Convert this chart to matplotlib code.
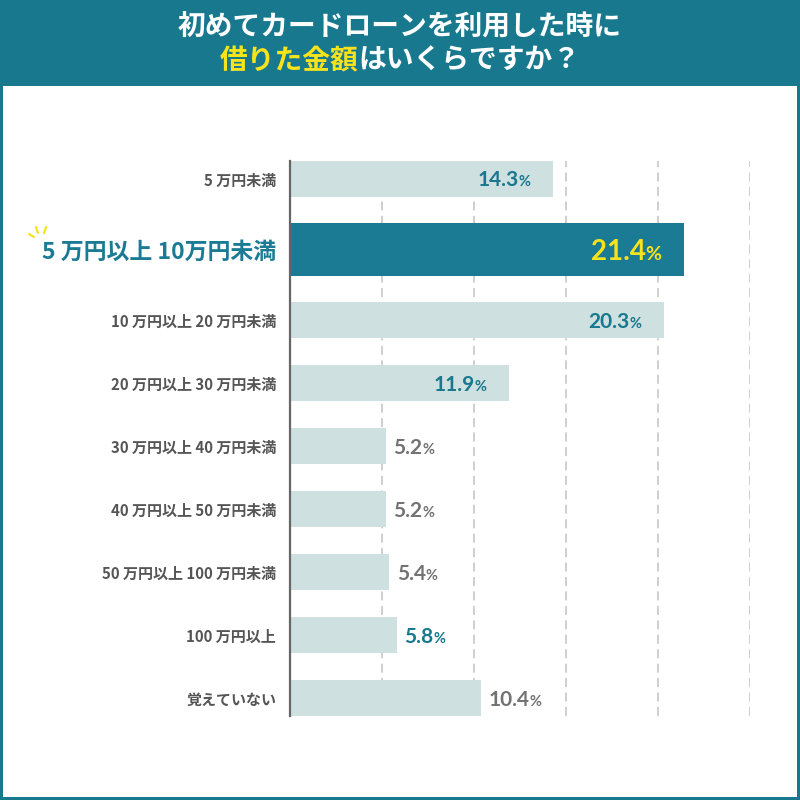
import matplotlib
matplotlib.use("Agg")
import matplotlib.pyplot as plt
import matplotlib.transforms as mtransforms
from matplotlib.patches import Rectangle
from matplotlib.lines import Line2D
import numpy as np

plt.rcParams["font.family"] = ["Noto Sans CJK JP", "DejaVu Sans"]

# data
categories = [
    "5 万円未満",
    "5 万円以上 10万円未満",
    "10 万円以上 20 万円未満",
    "20 万円以上 30 万円未満",
    "30 万円以上 40 万円未満",
    "40 万円以上 50 万円未満",
    "50 万円以上 100 万円未満",
    "100 万円以上",
    "覚えていない",
]
values = [14.3, 21.4, 20.3, 11.9, 5.2, 5.2, 5.4, 5.8, 10.4]
emphasis = [1, 2, 1, 1, 0, 0, 0, 1, 0]  # 2 = highlighted, 1 = teal label, 0 = gray
highlight = 1
title_line1 = "初めてカードローンを利用した時に"
title_line2a = "借りた金額"
title_line2b = "はいくらですか？"

# colours
TEAL = "#17788e"
BAR_HI = "#1b7b94"
BAR = "#cfe0e0"
YELLOW = "#f7e31c"
GRAY_TXT = "#737373"
LABEL_TXT = "#555555"
NUM_FONT = ["Lato", "Noto Sans CJK JP"]

W = H = 800
fig = plt.figure(figsize=(8, 8), dpi=100)
fig.patch.set_facecolor("white")

# header band and frame
head = 86
fig.patches.append(Rectangle((0, 1 - head / H), 1, head / H, transform=fig.transFigure,
                             facecolor=TEAL, edgecolor="none", zorder=0))
for (x0, y0, w, h) in [(0, 0, 3, H), (W - 3, 0, 3, H), (0, H - 3, W, 3)]:
    fig.patches.append(Rectangle((x0 / W, 1 - (y0 + h) / H), w / W, h / H,
                                 transform=fig.transFigure, facecolor=TEAL,
                                 edgecolor="none", zorder=0))

fig.text(0.5, 1 - 28 / H, title_line1, ha="center", va="center", color="white",
         fontsize=20, fontweight="bold")
t_a = fig.text(0, 1 - 61 / H, title_line2a, ha="left", va="center", color=YELLOW,
               fontsize=20, fontweight="bold")
t_b = fig.text(0, 1 - 61 / H, title_line2b, ha="left", va="center", color="white",
               fontsize=20, fontweight="bold")
renderer = fig.canvas.get_renderer()
wa = t_a.get_window_extent(renderer).width
wb = t_b.get_window_extent(renderer).width
x_start = (W - (wa + wb)) / 2
t_a.set_x(x_start / W)
t_b.set_x((x_start + wa) / W)

# chart
ax = fig.add_axes([290 / W, 1 - 716 / H, 460 / W, 555 / H])
n = len(values)
idx = np.arange(n, dtype=float)
gap = 0.12
pos = idx + gap * (idx >= highlight) + gap * (idx > highlight)
heights = [0.84 if e == 2 else 0.57 for e in emphasis]
colors = [BAR_HI if e == 2 else BAR for e in emphasis]

ax.barh(pos, values, height=heights, color=colors, zorder=2)
ax.set_xlim(0, 25)
ax.set_ylim(pos[-1] + 0.285, -0.285)

ax.set_xticks([5, 10, 15, 20, 25])
ax.set_xticklabels([])
ax.tick_params(axis="x", length=0)
ax.grid(axis="x", color="#cccccc", linewidth=1.3, linestyle=(0, (5, 3)), zorder=0)
ax.set_axisbelow(True)
for s in ["top", "right", "bottom"]:
    ax.spines[s].set_visible(False)
ax.spines["left"].set_color("#666666")
ax.spines["left"].set_linewidth(1.6)
ax.spines["left"].set_zorder(3)

ax.set_yticks(pos)
ax.set_yticklabels(categories)
ax.tick_params(axis="y", length=0, pad=10)
for lab, e in zip(ax.get_yticklabels(), emphasis):
    lab.set_fontweight("bold")
    if e == 2:
        lab.set_color(BAR_HI)
        lab.set_fontsize(16.5)
    else:
        lab.set_color(LABEL_TXT)
        lab.set_fontsize(10.8)

# sparkle marks next to highlighted label
for (x0, y0, x1, y1) in [(29, 234, 34, 237), (36, 227, 38, 233), (46, 227, 44, 233)]:
    fig.lines.append(Line2D([x0 / W, x1 / W], [1 - y0 / H, 1 - y1 / H],
                            transform=fig.transFigure, color=YELLOW, linewidth=1.6,
                            solid_capstyle="round"))

# value labels
for y, v, e in zip(pos, values, emphasis):
    big = e == 2
    num_size = 20 if big else 15
    pct_size = 14 if big else 10.5
    col = YELLOW if big else (TEAL if e == 1 else GRAY_TXT)
    base_dy = -num_size * 0.36
    inside = v > 11
    if inside:
        tr = mtransforms.offset_copy(ax.transData, fig, x=-16, y=base_dy, units="points")
        pct = ax.text(v, y, "%", ha="right", va="baseline", transform=tr,
                      fontsize=pct_size, fontweight="bold", color=col, family=NUM_FONT, zorder=4)
        pw = pct.get_window_extent(renderer).width * 72 / fig.dpi
        tr2 = mtransforms.offset_copy(ax.transData, fig, x=-16 - pw, y=base_dy, units="points")
        ax.text(v, y, f"{v:.1f}", ha="right", va="baseline", transform=tr2,
                fontsize=num_size, fontweight="bold", color=col, family=NUM_FONT, zorder=4)
    else:
        tr = mtransforms.offset_copy(ax.transData, fig, x=5.5, y=base_dy, units="points")
        num = ax.text(v, y, f"{v:.1f}", ha="left", va="baseline", transform=tr,
                      fontsize=num_size, fontweight="bold", color=col, family=NUM_FONT, zorder=4)
        nw = num.get_window_extent(renderer).width * 72 / fig.dpi
        tr2 = mtransforms.offset_copy(ax.transData, fig, x=5.5 + nw, y=base_dy, units="points")
        ax.text(v, y, "%", ha="left", va="baseline", transform=tr2,
                fontsize=pct_size, fontweight="bold", color=col, family=NUM_FONT, zorder=4)

fig.savefig("out.png", dpi=100)
